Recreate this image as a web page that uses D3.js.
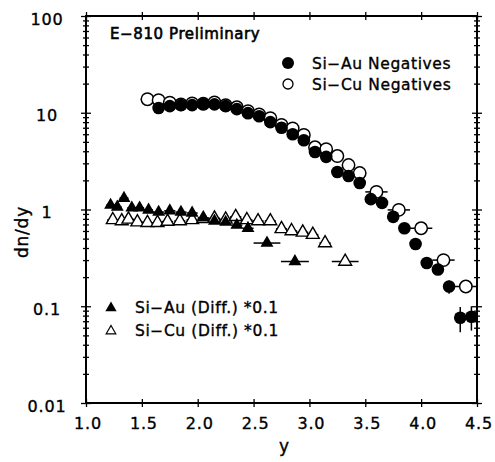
<!DOCTYPE html>
<html><head><meta charset="utf-8">
<script src="https://cdn.jsdelivr.net/npm/d3@7"></script>
<style>body{margin:0;background:#fff}svg text{font-family:"DejaVu Sans",sans-serif;fill:#000;stroke:#000;stroke-width:0.35px}</style>
</head><body>
<svg id="c" width="495" height="462"></svg>
<script>
// ---- data ----
const xTickValues = [1.0, 1.5, 2.0, 2.5, 3.0, 3.5, 4.0, 4.5];
const xTickLabels = ["1.0", "1.5", "2.0", "2.5", "3.0", "3.5", "4.0", "4.5"];
const yTickValues = [0.01, 0.1, 1, 10, 100];
const yTickLabels = ["0.01", "0.1", "1", "10", "100"];

// Si-Au negatives (filled circles)
const auX = [1.65,1.75,1.85,1.95,2.05,2.15,2.25,2.35,2.45,2.55,2.65,2.75,2.85,2.95,3.05,3.15,3.25,3.35,3.45,3.55,3.65,3.75,3.85,3.95,4.05,4.15,4.25,4.35,4.45];
const auY = [11.2,11.7,12.0,12.0,12.3,12.2,11.7,10.9,9.9,9.2,8.0,7.0,6.0,5.2,3.93,3.5,2.44,2.22,1.88,1.28,1.17,0.84,0.64,0.44,0.28,0.24,0.16,0.076,0.078];
const auXErr = [0.05,0.05,0.05,0.05,0.05,0.05,0.05,0.05,0.05,0.07,0.05,0.05,0.05,0.05,0.05,0.05,0.05,0.05,0.05,0.05,0.05,0.05,0.05,0.05,0.05,0.05,0.05,0.05,0.05];
const auYErr = [0,0,0,0,0,0,0,0,0,0,0,0,0,0,0,0,0,0,0,0,0,0,0,0,0,0,0.025,0.022,0.022];

// Si-Cu negatives (open circles)
const cuX = [1.55,1.65,1.75,1.85,1.95,2.05,2.15,2.25,2.35,2.45,2.55,2.65,2.75,2.85,2.95,3.05,3.15,3.25,3.35,3.45,3.6,3.8,4.0,4.2,4.4];
const cuY = [13.8,13.5,12.7,12.2,12.5,12.4,12.8,12.0,11.4,10.4,9.6,8.8,7.5,6.9,5.9,4.4,4.2,3.57,2.88,2.38,1.52,0.99,0.64,0.30,0.16];
const cuXErr = [0.06,0.05,0.05,0.05,0.05,0.05,0.05,0.05,0.05,0.05,0.05,0.05,0.05,0.05,0.05,0.05,0.05,0.05,0.05,0.05,0.1,0.1,0.1,0.1,0.1];

// Si-Au (Diff.)*0.1 (filled triangles)
const triAuX = [1.22,1.28,1.34,1.41,1.48,1.56,1.65,1.75,1.85,1.95,2.05,2.15,2.25,2.35,2.45,2.62,2.87];
const triAuY = [1.11,1.06,1.31,1.04,1.04,0.99,0.94,0.97,0.94,0.92,0.82,0.76,0.74,0.69,0.64,0.45,0.29];
const triAuXErr = [0.04,0.04,0.04,0.04,0.04,0.04,0.05,0.05,0.05,0.05,0.05,0.05,0.05,0.05,0.05,0.12,0.125];

// Si-Cu (Diff.)*0.1 (open triangles)
const triCuX = [1.24,1.32,1.38,1.46,1.55,1.64,1.73,1.84,1.95,2.05,2.15,2.25,2.34,2.44,2.54,2.65,2.75,2.84,2.94,3.03,3.14,3.32];
const triCuY = [0.78,0.76,0.79,0.74,0.73,0.73,0.75,0.76,0.78,0.80,0.81,0.79,0.84,0.78,0.76,0.76,0.63,0.60,0.58,0.55,0.45,0.29];
const triCuXErr = [0.05,0.05,0.05,0.05,0.05,0.05,0.05,0.05,0.05,0.05,0.05,0.05,0.05,0.05,0.05,0.05,0.05,0.05,0.05,0.05,0.05,0.12];

// ---- chart ----
const svg = d3.select("#c");
const L = 86, R = 477, T = 16, B = 403;
const x = d3.scaleLinear().domain([1, 4.5]).range([L, R]);
const y = d3.scaleLog().domain([0.01, 100]).range([B, T]);

const minorY = [];
[0.01, 0.1, 1, 10].forEach(d => { for (let k = 2; k <= 9; k++) minorY.push(d * k); });

function crossTicks(g, len, dir) {
  g.select(".domain").remove();
  g.selectAll(".tick line").attr("stroke", "#000").attr("stroke-width", 1.3);
  if (dir === "v") g.selectAll(".tick line").attr("x1", len).attr("x2", -len);
  else g.selectAll(".tick line").attr("y1", len).attr("y2", -len);
  g.selectAll(".tick text").remove();
}

[[L, d3.axisLeft], [R, d3.axisRight]].forEach(([px, ax]) => {
  svg.append("g").attr("transform", `translate(${px},0)`)
    .call(ax(y).tickValues(minorY).tickSize(3)).call(g => crossTicks(g, 3, "v"));
  svg.append("g").attr("transform", `translate(${px},0)`)
    .call(ax(y).tickValues(yTickValues).tickSize(5)).call(g => crossTicks(g, 5, "v"));
});
[[T, d3.axisTop], [B, d3.axisBottom]].forEach(([py, ax]) => {
  svg.append("g").attr("transform", `translate(0,${py})`)
    .call(ax(x).tickValues(xTickValues).tickSize(4)).call(g => crossTicks(g, 4, "h"));
});

svg.append("rect").attr("x", L).attr("y", T).attr("width", R - L).attr("height", B - T)
  .attr("fill", "none").attr("stroke", "#000").attr("stroke-width", 2);

svg.append("g").selectAll("text").data(yTickValues).join("text")
  .attr("x", 47).attr("y", d => y(d) + 8.5).attr("text-anchor", "middle")
  .attr("font-size", 16).attr("letter-spacing", 0.8)
  .text((d, i) => yTickLabels[i]);
svg.append("g").selectAll("text").data(xTickValues).join("text")
  .attr("x", d => x(d) + 2).attr("y", 429).attr("text-anchor", "middle")
  .attr("font-size", 16).attr("letter-spacing", 0.8)
  .text((d, i) => xTickLabels[i]);

svg.append("text").attr("x", 284).attr("y", 452).attr("text-anchor", "middle")
  .attr("font-size", 17).text("y");
svg.append("text").attr("transform", "translate(28,232) rotate(-90)")
  .attr("text-anchor", "middle").attr("font-size", 17).attr("letter-spacing", 0.8).text("dn/dy");

function hBars(xs, ys, errs) {
  svg.append("g").selectAll("line").data(xs).join("line")
    .attr("x1", (d, i) => x(Math.max(1, d - errs[i]))).attr("x2", (d, i) => x(Math.min(4.5, d + errs[i])))
    .attr("y1", (d, i) => y(ys[i])).attr("y2", (d, i) => y(ys[i]))
    .attr("stroke", "#000").attr("stroke-width", 1.5);
}
hBars(cuX, cuY, cuXErr);
hBars(auX, auY, auXErr);
hBars(triAuX, triAuY, triAuXErr);
hBars(triCuX, triCuY, triCuXErr);
svg.append("g").selectAll("line").data(auX.filter((d, i) => auYErr[i] > 0)).join("line")
  .each(function (d) {
    const i = auX.indexOf(d);
    d3.select(this).attr("x1", x(d)).attr("x2", x(d))
      .attr("y1", y(auY[i] + auYErr[i])).attr("y2", y(auY[i] - auYErr[i]));
  })
  .attr("stroke", "#000").attr("stroke-width", 1.5);

const tri = d3.symbol().type(d3.symbolTriangle).size(72);
svg.append("g").selectAll("path").data(triCuX).join("path")
  .attr("d", tri).attr("transform", (d, i) => `translate(${x(d)},${y(triCuY[i])})`)
  .attr("fill", "#fff").attr("stroke", "#000").attr("stroke-width", 1.4);
svg.append("g").selectAll("path").data(triAuX).join("path")
  .attr("d", tri).attr("transform", (d, i) => `translate(${x(d)},${y(triAuY[i])})`)
  .attr("fill", "#000");
svg.append("g").selectAll("circle").data(cuX).join("circle")
  .attr("cx", d => x(d)).attr("cy", (d, i) => y(cuY[i])).attr("r", 6.2)
  .attr("fill", "#fff").attr("stroke", "#000").attr("stroke-width", 1.5);
svg.append("g").selectAll("circle").data(auX).join("circle")
  .attr("cx", d => x(d)).attr("cy", (d, i) => y(auY[i])).attr("r", 6.3)
  .attr("fill", "#000");

svg.append("text").attr("x", 110).attr("y", 39).attr("font-size", 15).attr("letter-spacing", 0.6)
  .style("stroke-width", "0.6px").text("E\u2212810 Preliminary");
svg.append("circle").attr("cx", 288).attr("cy", 63).attr("r", 6).attr("fill", "#000");
svg.append("circle").attr("cx", 288).attr("cy", 84).attr("r", 5).attr("fill", "#fff").attr("stroke", "#000").attr("stroke-width", 1.3);
svg.append("text").attr("x", 312).attr("y", 68.5).attr("font-size", 15.5).attr("letter-spacing", 0.6).text("Si\u2212Au Negatives");
svg.append("text").attr("x", 312).attr("y", 89.5).attr("font-size", 15.5).attr("letter-spacing", 0.6).text("Si\u2212Cu Negatives");
svg.append("path").attr("d", d3.symbol().type(d3.symbolTriangle).size(55)).attr("transform", "translate(111,308)").attr("fill", "#000");
svg.append("path").attr("d", d3.symbol().type(d3.symbolTriangle).size(40)).attr("transform", "translate(111,331)")
  .attr("fill", "#fff").attr("stroke", "#000").attr("stroke-width", 1.2);
svg.append("text").attr("x", 135).attr("y", 313).attr("font-size", 15.5).attr("letter-spacing", 0.6).text("Si\u2212Au (Diff.) *0.1");
svg.append("text").attr("x", 135).attr("y", 336).attr("font-size", 15.5).attr("letter-spacing", 0.6).text("Si\u2212Cu (Diff.) *0.1");
</script>
</body></html>
